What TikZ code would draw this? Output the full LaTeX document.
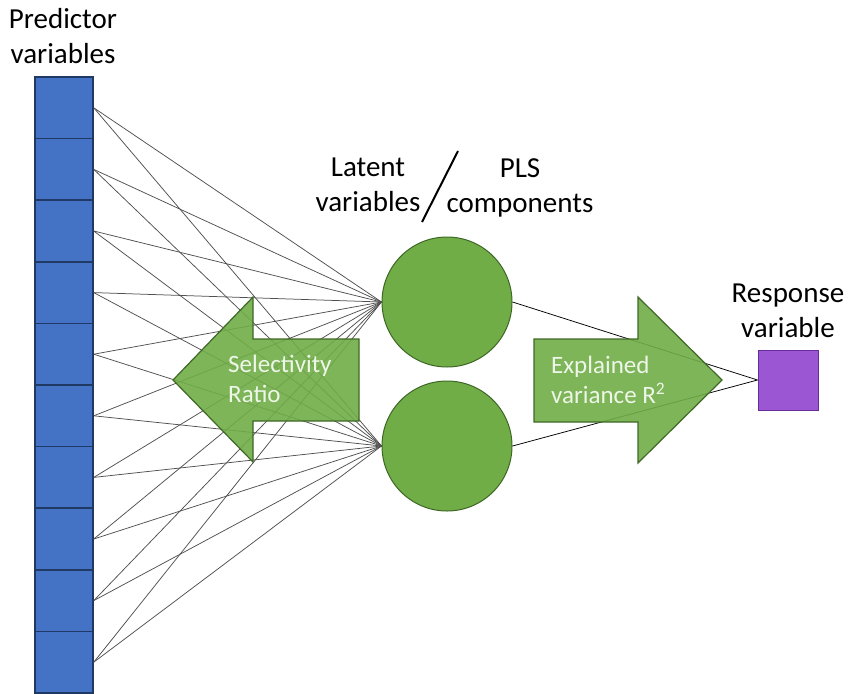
\documentclass[tikz,border=0pt]{standalone}
\usepackage{fontspec}
\setmainfont{Carlito}

\definecolor{predblue}{HTML}{4472C4}
\definecolor{predborder}{HTML}{203864}
\definecolor{compgreen}{HTML}{70AD47}
\definecolor{compborder}{HTML}{3F6826}
\definecolor{respviolet}{HTML}{9B57D3}
\definecolor{respborder}{HTML}{6A2C99}
\definecolor{linkgray}{HTML}{505050}
\definecolor{arrowtext}{HTML}{EEF6E8}

\begin{document}
\begin{tikzpicture}[x=1pt, y=-1pt,
    pred/.style={draw=predborder, fill=predblue, line width=1.5pt, minimum width=58pt, minimum height=61.6pt, inner sep=0pt},
    comp/.style={circle, draw=compborder, fill=compgreen, line width=1pt, minimum size=130pt, inner sep=0pt},
    resp/.style={draw=respborder, fill=respviolet, line width=1pt, minimum size=60pt, inner sep=0pt},
    label/.style={inner sep=0pt, align=center, font=\fontsize{29}{35}\selectfont},
    inlabel/.style={inner sep=0pt, align=left, text=arrowtext, font=\fontsize{25}{30}\selectfont},
    link/.style={draw=linkgray, line width=0.75pt},
    outlink/.style={draw=black, line width=0.75pt},
    bigarrow/.style={draw=compborder, fill=compgreen, fill opacity=0.9, line width=1.2pt, line join=miter}]

    \useasboundingbox (0,0) rectangle (848,693);

    % column of predictors
    \foreach \i in {1,...,10}
        \node[pred] (p\i) at (64, {46.2+61.6*\i}) {};

    \node[comp] (c1) at (447,302) {};
    \node[comp] (c2) at (447,446) {};
    \node[resp] (y) at (788,380) {};

    % every predictor loads on both components
    \foreach \i in {1,...,10}
        \path (p\i.east) edge[link] (c1.west)
              (p\i.east) edge[link] (c2.west);

    \path
        (c1.east) edge[outlink] (y.west)
        (c2.east) edge[outlink] (y.west);

    % big block arrows
    \draw[bigarrow] (173,380) -- (253,297) -- (253,339) -- (359,339) -- (359,421)
        -- (253,421) -- (253,462) -- cycle;
    \draw[bigarrow] (534,339) -- (638,339) -- (638,297) -- (722,380) -- (638,463)
        -- (638,422) -- (534,422) -- cycle;

    \node[inlabel, anchor=west] (sr) at (228,379) {Selectivity\\Ratio};
    \node[inlabel, anchor=west] (ev) at (551,380) {Explained\\variance R\textsuperscript{2}};

    % labels
    \node[label] (predlab) at (63,36) {Predictor\\variables};
    \node[label] (latlab) at (368,185) {Latent\\variables};
    \node[label] (plslab) at (520,188) {PLS\\components};
    \node[label] (resplab) at (788,311) {Response\\variable};
    \draw[line width=2pt] (458,151) -- (422,222);
\end{tikzpicture}
\end{document}
